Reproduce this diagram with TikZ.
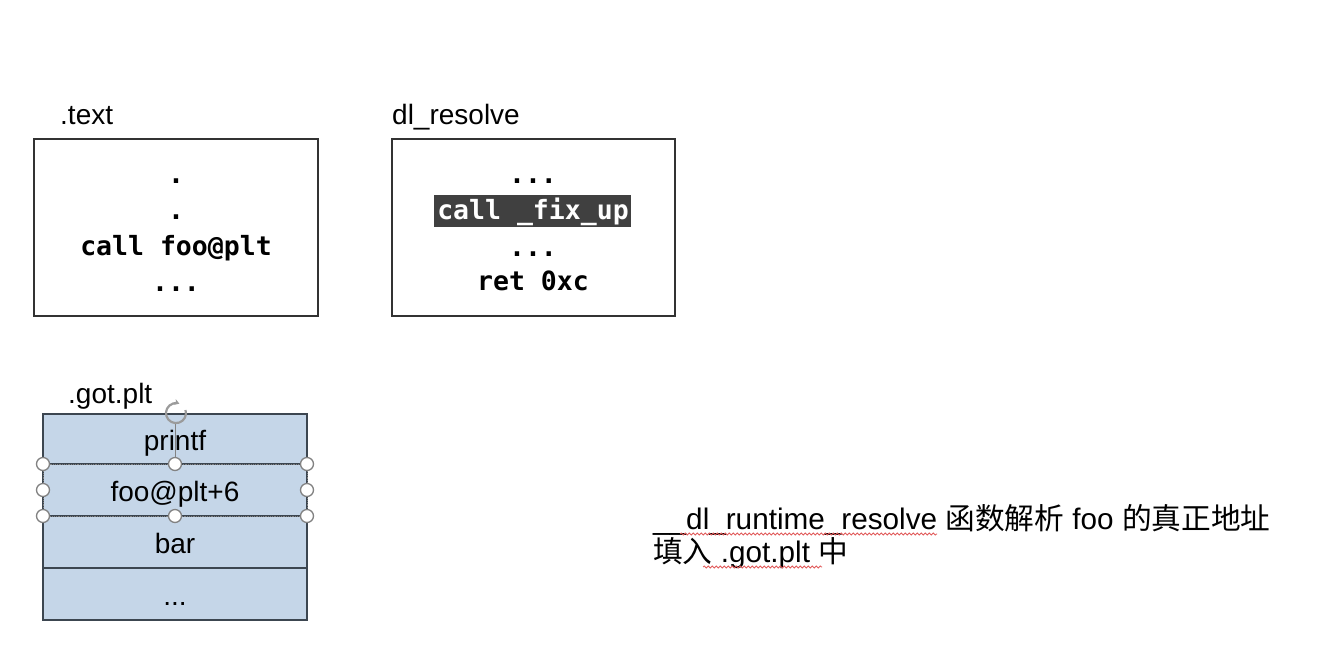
\documentclass[tikz,border=0pt]{standalone}
\usepackage{fontspec}
\setmainfont{Liberation Sans}
\setmonofont{DejaVu Sans Mono}
\newfontfamily\cjk{Noto Sans CJK SC}
\usetikzlibrary{decorations.pathmorphing,arrows.meta}
\definecolor{boxline}{RGB}{50,50,50}
\definecolor{gotfill}{RGB}{197,214,232}
\definecolor{gotline}{RGB}{60,70,80}
\definecolor{hlfill}{RGB}{64,64,64}
\definecolor{handle}{RGB}{130,130,130}
\definecolor{squiggle}{RGB}{225,90,90}
\tikzset{
  codebox/.style={draw=boxline,line width=1.6pt},
  codeline/.style={anchor=base,inner sep=0pt,font=\fontsize{26.5}{30}\selectfont\ttfamily\bfseries},
  lbl/.style={anchor=base west,inner sep=0pt,font=\fontsize{28}{32}\selectfont},
  explbl/.style={anchor=base west,inner sep=0pt,font=\fontsize{29.7}{34}\selectfont},
  gotcell/.style={draw=gotline,line width=1.2pt,fill=gotfill},
  celltext/.style={anchor=base,inner sep=0pt,font=\fontsize{28}{32}\selectfont},
  selhandle/.style={circle,draw=handle,fill=white,line width=1.3pt,minimum size=13pt,inner sep=0pt},
  wavy/.style={draw=squiggle,line width=0.8pt,decorate,decoration={snake,amplitude=1pt,segment length=4pt}}
}
\begin{document}
\begin{tikzpicture}[x=1pt,y=-1pt]
\useasboundingbox[fill=white] (0,0) rectangle (1337,646);

% .text box
\node[lbl] (textlbl) at (60,124) {.text};
\draw[codebox] (34,139) rectangle (318,316);
\node[codeline] (t1) at (176,183) {.};
\node[codeline] (t2) at (176,219) {.};
\node[codeline] (t3) at (176,255) {call foo@plt};
\node[codeline] (t4) at (176,291) {...};

% dl_resolve box
\node[lbl] (dllbl) at (392,124) {dl\_resolve};
\draw[codebox] (392,139) rectangle (675,316);
\node[codeline] (d1) at (533,183) {...};
\fill[hlfill] (434,195) rectangle (631,227);
\node[codeline,text=white] (d2) at (533,219) {call \_fix\_up};
\node[codeline] (d3) at (533,256) {...};
\node[codeline] (d4) at (533,290) {ret 0xc};

% .got.plt table
\node[lbl] (gotlbl) at (68,403) {.got.plt};
\draw[gotcell] (43,414) rectangle (307,464);
\draw[gotcell] (43,464) rectangle (307,516);
\draw[gotcell] (43,516) rectangle (307,568);
\draw[gotcell] (43,568) rectangle (307,620);
\node[celltext] (g1) at (175,450) {printf};
\node[celltext] (g2) at (175,501) {foo@plt+6};
\node[celltext] (g3) at (175,553) {bar};
\node[celltext] (g4) at (175,605) {...};

% selection frame and handles
\draw[handle,line width=0.8pt,densely dotted] (43,464) rectangle (307,516);
\coordinate (rot) at (176,413);
\draw[handle,line width=1pt] (175,423) -- (175,458);
\draw[handle!80,line width=2.2pt,-{Stealth[length=5pt,width=6pt]}] (rot) ++(9.5,-3) arc[start angle=-18,end angle=290,radius=10];
\node[selhandle] (h1) at (43,464) {};
\node[selhandle] (h2) at (175,464) {};
\node[selhandle] (h3) at (307,464) {};
\node[selhandle] (h4) at (43,490) {};
\node[selhandle] (h5) at (307,490) {};
\node[selhandle] (h6) at (43,516) {};
\node[selhandle] (h7) at (175,516) {};
\node[selhandle] (h8) at (307,516) {};

% explanation text
\node[explbl] (ex1) at (653,529) {\_\_dl\_runtime\_resolve {\cjk 函数解析} foo {\cjk 的真正地址}};
\node[explbl] (ex2) at (653,562) {{\cjk 填入} .got.plt {\cjk 中}};
\draw[wavy] (680,534) -- (937,534);
\draw[wavy] (703,567) -- (822,567);
\end{tikzpicture}
\end{document}
